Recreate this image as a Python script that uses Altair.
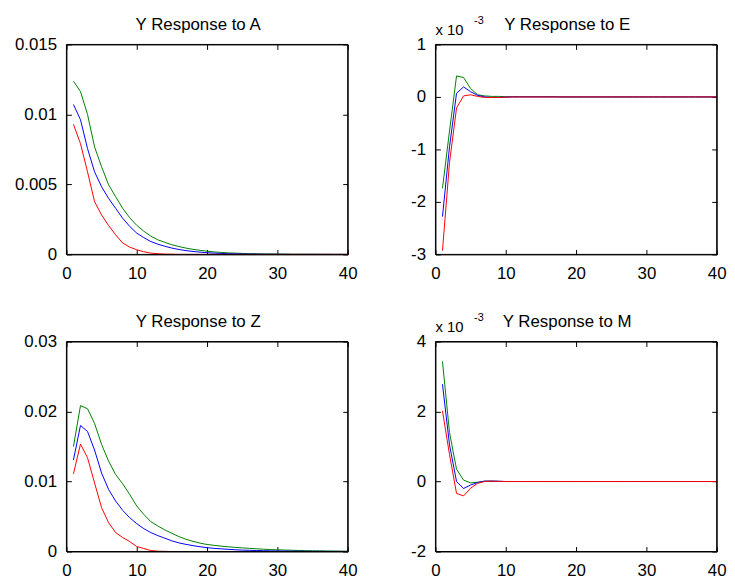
import altair as alt
import pandas as pd

# horizon (periods)
periods = list(range(1, 41))

# ---- Y Response to A (raw units) ----
a_green = [0.01237, 0.01163, 0.01000, 0.00768, 0.00626, 0.00497, 0.00412, 0.00329, 0.00262, 0.00208,
           0.00166, 0.00130, 0.00104, 0.00086, 0.00069, 0.00056, 0.00045, 0.00036, 0.00029, 0.00023,
           0.00018, 0.00014, 0.00011, 0.00009, 0.00007, 0.00005, 0.00004, 0.00003, 0.00003, 0.00002,
           0.00002, 0.00001, 0.00001, 0.00001, 0.00001, 0.000005, 0.000005, 0.0, 0.0, 0.0]
a_blue = [0.01071, 0.00962, 0.00756, 0.00590, 0.00483, 0.00400, 0.00329, 0.00258, 0.00200, 0.00152,
          0.00120, 0.00092, 0.00073, 0.00058, 0.00045, 0.00035, 0.00027, 0.00021, 0.00016, 0.00012,
          0.00009, 0.00007, 0.00005, 0.00004, 0.00003, 0.00002, 0.00002, 0.00001, 0.00001, 0.00001,
          0.000005, 0.0, 0.0, 0.0, 0.0, 0.0, 0.0, 0.0, 0.0, 0.0]
a_red = [0.00929, 0.00791, 0.00590, 0.00377, 0.00282, 0.00206, 0.00140, 0.00081, 0.00052, 0.00033,
         0.00019, 0.00009, 0.00005, 0.00002, 0.00001, 0.0, 0.0, 0.0, 0.0, 0.0,
         0.0, 0.0, 0.0, 0.0, 0.0, 0.0, 0.0, 0.0, 0.0, 0.0,
         0.0, 0.0, 0.0, 0.0, 0.0, 0.0, 0.0, 0.0, 0.0, 0.0]

# ---- Y Response to E (units of 10^-3) ----
e_green = [-1.74, -0.65, 0.40, 0.37, 0.16, 0.04, 0.02, 0.01, 0.01, 0.005,
           0.005, 0.005, 0.005, 0.005, 0.005, 0.005, 0.005, 0.0, 0.0, 0.0,
           0.0, 0.0, 0.0, 0.0, 0.0, 0.0, 0.0, 0.0, 0.0, 0.0,
           0.0, 0.0, 0.0, 0.0, 0.0, 0.0, 0.0, 0.0, 0.0, 0.0]
e_blue = [-2.28, -0.95, 0.07, 0.19, 0.10, 0.03, 0.0, -0.01, -0.01, -0.005,
          0.0, 0.0, 0.0, 0.0, 0.0, 0.0, 0.0, 0.0, 0.0, 0.0,
          0.0, 0.0, 0.0, 0.0, 0.0, 0.0, 0.0, 0.0, 0.0, 0.0,
          0.0, 0.0, 0.0, 0.0, 0.0, 0.0, 0.0, 0.0, 0.0, 0.0]
e_red = [-2.93, -1.25, -0.21, 0.02, 0.04, 0.01, -0.01, -0.01, -0.01, -0.005,
         0.0, 0.0, 0.0, 0.0, 0.0, 0.0, 0.0, 0.0, 0.0, 0.0,
         0.0, 0.0, 0.0, 0.0, 0.0, 0.0, 0.0, 0.0, 0.0, 0.0,
         0.0, 0.0, 0.0, 0.0, 0.0, 0.0, 0.0, 0.0, 0.0, 0.0]

# ---- Y Response to Z (raw units) ----
z_green = [0.01500, 0.02085, 0.02040, 0.01830, 0.01530, 0.01290, 0.01100, 0.00967, 0.00815, 0.00650,
           0.00530, 0.00427, 0.00365, 0.00308, 0.00260, 0.00213, 0.00175, 0.00145, 0.00120, 0.00100,
           0.00088, 0.00077, 0.00067, 0.00059, 0.00052, 0.00045, 0.00039, 0.00033, 0.00028, 0.00024,
           0.00021, 0.00018, 0.00015, 0.00012, 0.00010, 0.00009, 0.00007, 0.00006, 0.00005, 0.00004]
z_blue = [0.01310, 0.01800, 0.01715, 0.01450, 0.01120, 0.00886, 0.00720, 0.00588, 0.00483, 0.00398,
          0.00327, 0.00270, 0.00227, 0.00190, 0.00152, 0.00123, 0.00102, 0.00084, 0.00068, 0.00055,
          0.00045, 0.00038, 0.00031, 0.00025, 0.00020, 0.00017, 0.00014, 0.00012, 0.00010, 0.00008,
          0.00007, 0.00006, 0.00005, 0.00004, 0.00003, 0.00003, 0.00002, 0.00002, 0.00001, 0.00001]
z_red = [0.01110, 0.01535, 0.01340, 0.00980, 0.00626, 0.00412, 0.00270, 0.00200, 0.00142, 0.00071,
         0.00043, 0.00014, 0.00005, 0.00002, 0.0, 0.0, 0.0, 0.0, 0.0, 0.0,
         0.0, 0.0, 0.0, 0.0, 0.0, 0.0, 0.0, 0.0, 0.0, 0.0,
         0.0, 0.0, 0.0, 0.0, 0.0, 0.0, 0.0, 0.0, 0.0, 0.0]

# ---- Y Response to M (units of 10^-3) ----
m_green = [3.43, 1.40, 0.35, 0.04, -0.04, -0.02, 0.01, 0.01, 0.005, 0.0,
           0.0, 0.0, 0.0, 0.0, 0.0, 0.0, 0.0, 0.0, 0.0, 0.0,
           0.0, 0.0, 0.0, 0.0, 0.0, 0.0, 0.0, 0.0, 0.0, 0.0,
           0.0, 0.0, 0.0, 0.0, 0.0, 0.0, 0.0, 0.0, 0.0, 0.0]
m_blue = [2.78, 1.05, 0.0, -0.20, -0.10, -0.03, 0.01, 0.01, 0.005, 0.0,
          0.0, 0.0, 0.0, 0.0, 0.0, 0.0, 0.0, 0.0, 0.0, 0.0,
          0.0, 0.0, 0.0, 0.0, 0.0, 0.0, 0.0, 0.0, 0.0, 0.0,
          0.0, 0.0, 0.0, 0.0, 0.0, 0.0, 0.0, 0.0, 0.0, 0.0]
m_red = [2.02, 0.77, -0.34, -0.41, -0.19, -0.05, 0.0, 0.01, 0.005, 0.0,
         0.0, 0.0, 0.0, 0.0, 0.0, 0.0, 0.0, 0.0, 0.0, 0.0,
         0.0, 0.0, 0.0, 0.0, 0.0, 0.0, 0.0, 0.0, 0.0, 0.0,
         0.0, 0.0, 0.0, 0.0, 0.0, 0.0, 0.0, 0.0, 0.0, 0.0]

x_ticks = [0, 10, 20, 30, 40]
a_ticks = [0, 0.005, 0.01, 0.015]
e_ticks = [-3, -2, -1, 0, 1]
z_ticks = [0, 0.01, 0.02, 0.03]
m_ticks = [-2, 0, 2, 4]

series_names = ["g", "b", "r"]
series_colors = ["#008000", "#0000ff", "#ff0000"]

FONT = "Liberation Sans"
W, H = 284, 212
EXT = 50


def tick_axis(orient, values, labels=True, **kw):
    return alt.Axis(orient=orient, values=values, labels=labels, domain=False, grid=False,
                    ticks=True, tickSize=5, offset=-5, tickColor="black", tickWidth=1,
                    labelFont=FONT, labelFontSize=17, labelColor="black", labelFlush=False,
                    labelExpr="datum.value + ''", **kw)


def label(txt, x, y, size, align="left"):
    return alt.Chart(pd.DataFrame({"txt": [txt]})).mark_text(
        align=align, baseline="alphabetic", font=FONT, fontSize=size, color="black"
    ).encode(text="txt:N", x=alt.value(x), y=alt.value(y))


def box():
    return alt.Chart(pd.DataFrame({"k": [0]})).mark_rect(
        fillOpacity=0, stroke="black", strokeWidth=1
    ).encode(x=alt.value(0), x2=alt.value(W), y=alt.value(0), y2=alt.value(H))


def panel(title, g, b, r, yticks, ydom, scaled):
    rows = []
    for name, vals in zip(series_names, [g, b, r]):
        for t, v in zip(periods, vals):
            rows.append({"t": t, "v": v, "s": name})
    df = pd.DataFrame(rows)
    xs = alt.Scale(domain=[0, 40], nice=False, zero=False)
    ys = alt.Scale(domain=ydom, nice=False, zero=False)
    base = alt.Chart(df)
    frame = base.mark_line(strokeOpacity=0).encode(
        x=alt.X("t:Q", scale=xs, title=None, axis=tick_axis("top", x_ticks, labels=False)),
        y=alt.Y("v:Q", scale=ys, title=None, axis=tick_axis("right", yticks, labels=False)),
        detail="s:N",
    )
    lines = base.mark_line(strokeWidth=1).encode(
        x=alt.X("t:Q", scale=xs, title=None,
                axis=tick_axis("bottom", x_ticks, labelPadding=11)),
        y=alt.Y("v:Q", scale=ys, title=None,
                axis=tick_axis("left", yticks, labelPadding=10, minExtent=EXT, maxExtent=EXT)),
        color=alt.Color("s:N", scale=alt.Scale(domain=series_names, range=series_colors),
                        legend=None),
    )
    layers = [frame, lines, box(), label(title, W / 2 - 9, -15, 17, align="center")]
    if scaled:
        layers += [label("x 10", 0, -9.5, 15), label("-3", 39, -21, 11)]
    return alt.layer(*layers).properties(width=W, height=H)


p1 = panel("Y Response to A", a_green, a_blue, a_red, a_ticks, [0, 0.015], False)
p2 = panel("Y Response to E", e_green, e_blue, e_red, e_ticks, [-3, 1], True)
p3 = panel("Y Response to Z", z_green, z_blue, z_red, z_ticks, [0, 0.03], False)
p4 = panel("Y Response to M", m_green, m_blue, m_red, m_ticks, [-2, 4], True)

chart = alt.concat(p1, p2, p3, p4, columns=2, bounds="flush",
                   spacing={"row": 88, "column": 88.6}).properties(
    padding={"left": 5, "top": 3, "right": 0, "bottom": 0},
    background="white",
).configure_view(stroke="black", strokeWidth=1)

chart.save("out.html", embed_options={"renderer": "svg", "actions": False})
